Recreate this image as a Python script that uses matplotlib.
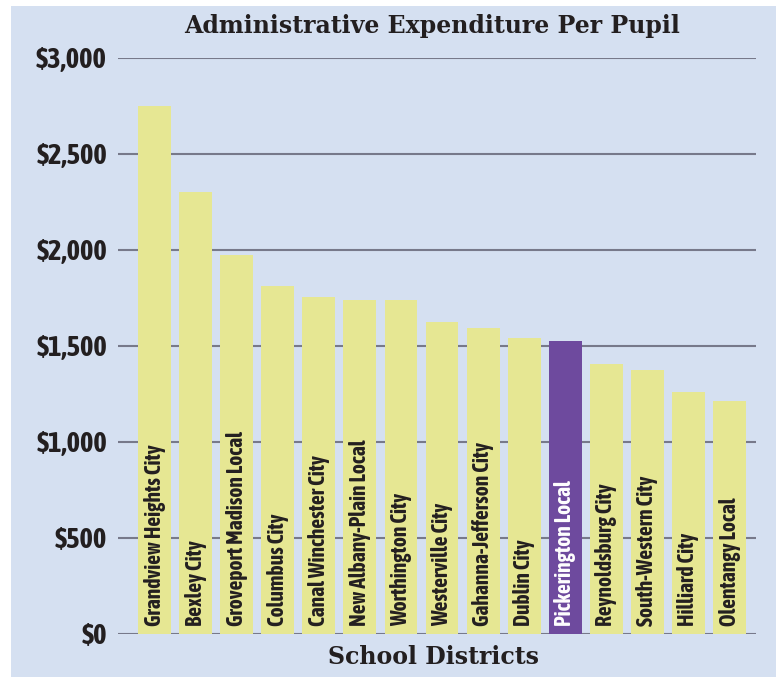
import matplotlib.pyplot as plt
from matplotlib.patches import Rectangle
from matplotlib import font_manager
from matplotlib.font_manager import FontProperties

districts = ['Grandview Heights City', 'Bexley City', 'Groveport Madison Local',
             'Columbus City', 'Canal Winchester City', 'New Albany-Plain Local',
             'Worthington City', 'Westerville City', 'Gahanna-Jefferson City',
             'Dublin City', 'Pickerington Local', 'Reynoldsburg City',
             'South-Western City', 'Hilliard City', 'Olentangy Local']
spend = [2750, 2302, 1972, 1812, 1753, 1740, 1740, 1625, 1594, 1542,
         1526, 1406, 1375, 1262, 1212]
highlight = 'Pickerington Local'
yticks = [0, 500, 1000, 1500, 2000, 2500, 3000]


def wt(f):
    w = f.weight
    if isinstance(w, str):
        w = font_manager.weight_dict.get(w, 400)
    return w


def st(f):
    s = f.stretch
    if isinstance(s, str):
        s = font_manager.stretch_dict.get(s, 500)
    n = f.name + ' ' + f.fname
    if s >= 500:
        if 'SemiCondensed' in n or 'Semi Condensed' in n:
            s = 400
        elif 'ExtraCondensed' in n or 'Extra Condensed' in n:
            s = 200
        elif 'Condensed' in n or 'Narrow' in n:
            s = 300
    return s


# a bold condensed face, the closer to normal width the better
fonts = [f for f in font_manager.fontManager.ttflist
         if st(f) < 500 and f.style == 'normal' and 700 <= wt(f) <= 800]
fonts.sort(key=lambda f: (-st(f), wt(f), f.name))
narrow = fonts[0].fname if fonts else None


def fp(size):
    if narrow:
        return FontProperties(fname=narrow, size=size)
    return FontProperties(family='DejaVu Sans', weight='bold', size=size * 0.8)


bg = '#d5e0f1'
fig = plt.figure(figsize=(7.76, 6.77), dpi=100)
fig.patch.set_facecolor('white')
fig.patches.append(Rectangle((11 / 776, 0), 1, 1 - 6 / 677, transform=fig.transFigure,
                             facecolor=bg, edgecolor='none', zorder=-10))

ax = fig.add_axes([118 / 776, 1 - 634 / 677, (756 - 118) / 776, (634 - 58) / 677])
ax.set_facecolor('none')

x = range(len(districts))
colors = ['#6e4a9e' if d == highlight else '#e6e793' for d in districts]
ax.bar(x, spend, width=0.8, color=colors, zorder=3)

for i, d in enumerate(districts):
    c = 'white' if d == highlight else '#231f20'
    ax.text(i, 40, d, rotation=90, ha='center', va='bottom', zorder=4,
            color=c, fontproperties=fp(15.5))

ax.set_ylim(0, 3000)
ax.set_xlim(-0.89, 14.645)
ax.set_yticks(yticks)
ax.set_yticklabels(['${:,}'.format(v) for v in yticks], fontproperties=fp(20.5),
                   color='#231f20')
ax.tick_params(axis='y', length=0, pad=8)
ax.set_xticks([])
for v in yticks:
    ax.axhline(v, color='#77798a', linewidth=1.5, zorder=1)
for s in ax.spines.values():
    s.set_visible(False)

fig.text(432 / 776, 1 - 26 / 677, 'Administrative Expenditure Per Pupil', ha='center',
         va='center', fontsize=17, fontweight='bold', family='DejaVu Serif', color='#231f20')
fig.text(434 / 776, 1 - 657 / 677, 'School Districts', ha='center', va='center',
         fontsize=17, fontweight='bold', family='DejaVu Serif', color='#231f20')

fig.savefig('out.png', dpi=100)
